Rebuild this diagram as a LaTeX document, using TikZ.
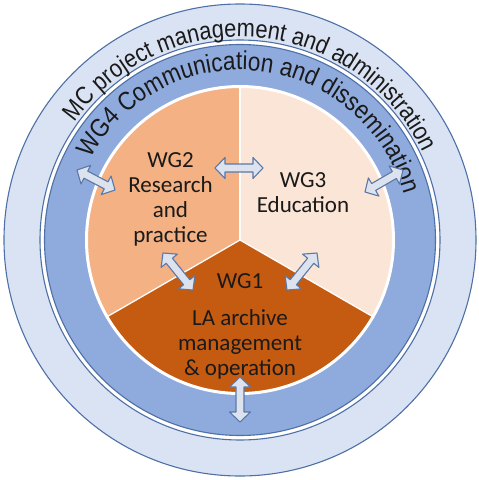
\documentclass[tikz,border=0pt]{standalone}
\usepackage{fontspec}
\setmainfont{Carlito}
\newfontfamily\arcfamily[FakeStretch=0.87]{Liberation Sans}
\usetikzlibrary{calc,decorations.text}
\definecolor{ringlight}{HTML}{DAE3F3}
\definecolor{ringdark}{HTML}{8FAADC}
\definecolor{ringline}{HTML}{4E70A6}
\definecolor{wgtwo}{HTML}{F4B183}
\definecolor{wgthree}{HTML}{FBE5D6}
\definecolor{wgone}{HTML}{C55A11}
\definecolor{arrfill}{HTML}{DDE3EE}
\definecolor{arrline}{HTML}{5A78A8}
\definecolor{txtcol}{HTML}{1A1A1A}
\newcommand\mcfont{\arcfamily\fontsize{25}{30}\selectfont}
\newcommand\wgfont{\arcfamily\fontsize{26}{31}\selectfont}
\newcommand\blockarrow[2]{%
  \draw[barrow] (#1)
    -- ($(#1)!10pt!(#2)!10.5pt!90:(#2)$)
    -- ($(#1)!10pt!(#2)!4pt!90:(#2)$)
    -- ($(#2)!10pt!(#1)!4pt!-90:(#1)$)
    -- ($(#2)!10pt!(#1)!10.5pt!-90:(#1)$)
    -- (#2)
    -- ($(#2)!10pt!(#1)!10.5pt!90:(#1)$)
    -- ($(#2)!10pt!(#1)!4pt!90:(#1)$)
    -- ($(#1)!10pt!(#2)!4pt!-90:(#2)$)
    -- ($(#1)!10pt!(#2)!10.5pt!-90:(#2)$)
    -- cycle;}
\begin{document}
\begin{tikzpicture}[x=1pt,y=1pt,
  ringstyle/.style={draw=ringline, line width=1.1pt},
  barrow/.style={draw=arrline, fill=arrfill, line width=1.1pt, line join=round},
  lbl/.style={text=txtcol, font=\fontsize{23}{25}\selectfont, align=center, inner sep=0pt},
  sepline/.style={white, line width=1.3pt}]
\useasboundingbox (-240,-240) rectangle (239,240);
% rings
\draw[ringstyle, fill=ringlight] (0,0) circle (236pt);
\draw[ringstyle, fill=white] (0,0) circle (200pt);
\draw[ringstyle, fill=ringdark] (0,0) circle (195.5pt);
% pie
\fill[wgtwo] (0,0) -- (90:153pt) arc (90:210:153pt) -- cycle;
\fill[wgthree] (0,0) -- (-30:153pt) arc (-30:90:153pt) -- cycle;
\fill[wgone] (0,0) -- (210:153pt) arc (210:330:153pt) -- cycle;
\coordinate (ctr) at (0,0);
\coordinate (s1) at (90:153pt);
\coordinate (s2) at (210:153pt);
\coordinate (s3) at (330:153pt);
\draw[sepline] (ctr) -- (s1);
\draw[sepline] (ctr) -- (s2);
\draw[sepline] (ctr) -- (s3);
\draw[white, line width=3pt] (ctr) circle (153.5pt);
% curved texts
\path[font=\mcfont, decorate, decoration={text along path, text align=center,
  text={|\mcfont\color{txtcol}|MC project management and administration}}]
  (145:203pt) arc (145:25:203pt);
\path[font=\wgfont, decorate, decoration={text along path, text align=center,
  text={|\wgfont\color{txtcol}|WG4 Communication and dissemination}}]
  (153:170pt) arc (153:14:170pt);
% labels
\node[lbl] (wg2txt) at (-69.5,41) {WG2\\Research\\and\\practice};
\node[lbl] (wg3txt) at (63,47) {WG3\\Education};
\node[lbl, anchor=base] (wg1txt) at (0,-48) {WG1};
\node[lbl] (wg1sub) at (0,-104.5) {LA archive\\management\\\& operation};
% arrows
\coordinate (ha) at (-25,72);   \coordinate (hb) at (23,72);
\coordinate (la) at (-163,70);  \coordinate (lb) at (-125,50);
\coordinate (ra) at (125,48);   \coordinate (rb) at (163,70);
\coordinate (da) at (-77,-13);  \coordinate (db) at (-47,-50);
\coordinate (ea) at (77,-13);   \coordinate (eb) at (47,-50);
\coordinate (ba) at (0,-137);   \coordinate (bb) at (0,-182);
\blockarrow{ha}{hb}
\blockarrow{la}{lb}
\blockarrow{ra}{rb}
\blockarrow{da}{db}
\blockarrow{ea}{eb}
\blockarrow{ba}{bb}
\end{tikzpicture}
\end{document}
